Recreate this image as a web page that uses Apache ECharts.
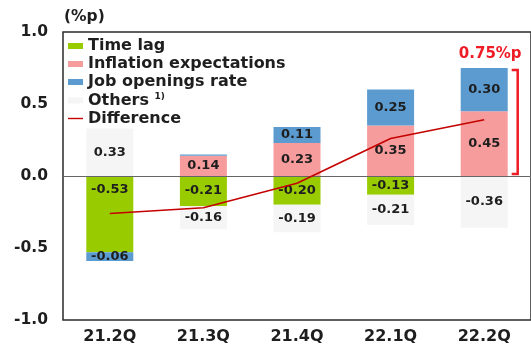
<!DOCTYPE html>
<html><head><meta charset="utf-8">
<script src="https://cdn.jsdelivr.net/npm/echarts@6/dist/echarts.min.js"></script>
<style>html,body{margin:0;padding:0;background:#fff}#c{width:531px;height:351px}</style>
</head><body><div id="c"></div>
<script>
// Contributions to the change (%p) by quarter
const quarters = ['21.2Q', '21.3Q', '21.4Q', '22.1Q', '22.2Q'];
const timeLag = [-0.53, -0.21, -0.20, -0.13, null];
const inflationExp = [null, 0.14, 0.23, 0.35, 0.45];
const jobOpenings = [-0.06, 0.01, 0.11, 0.25, 0.30];
const others = [0.33, -0.16, -0.19, -0.21, -0.36];
const difference = [-0.26, -0.22, -0.05, 0.26, 0.39];
const yMin = -1.0, yMax = 1.0, yStep = 0.5;
const latestGap = 0.75;

const FONT = '"DejaVu Sans", sans-serif';
const INK = '#1e1e1e';
const LINE_RED = '#c40000';
const fmtNum = (v, d) => (v < 0 ? '-' : '') + Math.abs(v).toFixed(d);

const barLabel = {
  show: true, position: 'inside', color: INK,
  fontFamily: FONT, fontWeight: 'bold', fontSize: 13,
  formatter: p => (p.value == null || Math.abs(p.value) < 0.03) ? '' : fmtNum(p.value, 2)
};

function bar(name, values, color) {
  // the deep first-quarter time-lag bar carries its label near the top
  const data = values.map((v, i) => (name === 'Time lag' && i === 0)
    ? { value: v, label: { position: 'insideTop', distance: 7 } }
    : v);
  return {
    name, type: 'bar', stack: 'total', data, barWidth: 47,
    itemStyle: { color }, label: barLabel, emphasis: { disabled: true }
  };
}

// thin horizontal stroke used as the line-series legend key (15x6 box, 1.4px line)
const LINE_KEY = 'path://M0,0M15,6M0,2.3H15V3.7H0Z';

const chart = echarts.init(document.getElementById('c'), null, { renderer: 'canvas' });
chart.setOption({
  animation: false,
  backgroundColor: '#fff',
  grid: { left: 63, right: -2, top: 32, bottom: 31, show: true, borderColor: '#2a2a2a', borderWidth: 1.5 },
  legend: {
    orient: 'vertical', left: 63, top: 33, itemWidth: 15, itemHeight: 6, itemGap: 2,
    textStyle: {
      fontFamily: FONT, fontWeight: 'bold', fontSize: 16, color: INK, lineHeight: 16,
      rich: { s: { fontFamily: FONT, fontWeight: 'bold', fontSize: 9, color: INK, padding: [0, 0, 8, 0] } }
    },
    formatter: n => n === 'Others' ? 'Others {s|1)}' : n,
    data: [
      { name: 'Time lag', icon: 'rect' },
      { name: 'Inflation expectations', icon: 'rect' },
      { name: 'Job openings rate', icon: 'rect' },
      { name: 'Others', icon: 'rect' },
      { name: 'Difference', icon: LINE_KEY, itemStyle: { color: LINE_RED } }
    ],
    selectedMode: false
  },
  xAxis: {
    type: 'category', data: quarters,
    axisLine: { show: false, onZero: false }, axisTick: { show: false },
    axisLabel: { fontFamily: FONT, fontWeight: 'bold', fontSize: 16, color: INK, margin: 9 }
  },
  yAxis: {
    type: 'value', min: yMin, max: yMax, interval: yStep,
    axisLine: { show: false }, axisTick: { show: false }, splitLine: { show: false },
    axisLabel: { fontFamily: FONT, fontWeight: 'bold', fontSize: 15.5, color: INK, margin: 15,
      formatter: v => fmtNum(v, 1) }
  },
  series: [
    bar('Time lag', timeLag, '#99cc00'),
    bar('Inflation expectations', inflationExp, '#f79c9c'),
    bar('Job openings rate', jobOpenings, '#5b9bd0'),
    bar('Others', others, '#f5f5f5'),
    {
      name: 'Difference', type: 'line', data: difference, symbol: 'none', z: 5,
      lineStyle: { color: LINE_RED, width: 1.6 }, itemStyle: { color: LINE_RED },
      markLine: {
        silent: true, symbol: 'none', label: { show: false },
        lineStyle: { color: '#666', width: 1.2, type: 'solid' },
        data: [{ yAxis: 0 }]
      }
    }
  ]
});

// Unit caption, total-gap bracket and its label
function drawExtras() {
  const last = quarters.length - 1;
  const xC = chart.convertToPixel({ xAxisIndex: 0 }, quarters[last]);
  const yTop = chart.convertToPixel({ yAxisIndex: 0 }, latestGap);
  const yZero = chart.convertToPixel({ yAxisIndex: 0 }, 0);
  const xL = xC + 47 / 2 + 4, xR = xL + 6;
  chart.setOption({
    graphic: [
      { type: 'text', left: 64, top: 9,
        style: { text: '(%p)', fontFamily: FONT, fontWeight: 'bold', fontSize: 15.5, fill: INK } },
      { type: 'polyline', silent: true,
        shape: { points: [[xL, yTop + 2], [xR, yTop + 2], [xR, yZero - 2], [xL, yZero - 2]] },
        style: { stroke: '#ee1c25', lineWidth: 2.5, fill: null } },
      { type: 'text', x: xC + 6, y: yTop - 14,
        style: { text: latestGap.toFixed(2) + '%p', fontFamily: FONT, fontWeight: 'bold', fontSize: 15,
          fill: '#ee1c25', align: 'center', verticalAlign: 'middle' } }
    ]
  });
}
drawExtras();
</script>
</body></html>
